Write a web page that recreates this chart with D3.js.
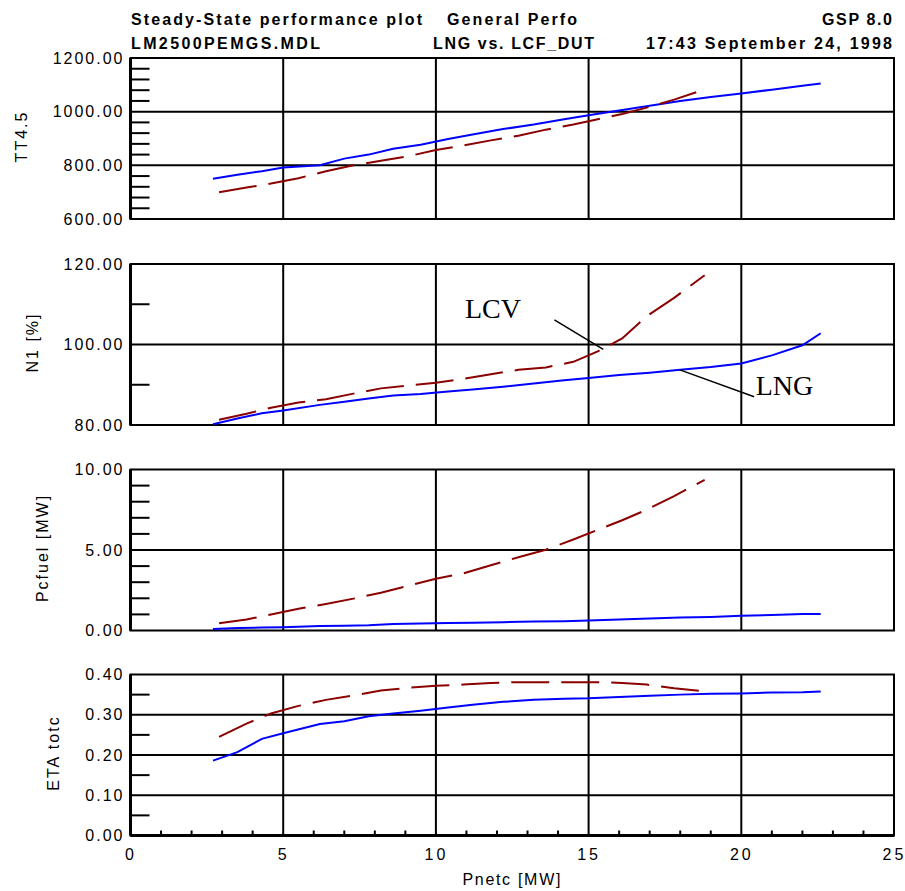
<!DOCTYPE html>
<html>
<head>
<meta charset="utf-8">
<script src="https://cdn.jsdelivr.net/npm/d3@7"></script>
<style>
  html, body { margin: 0; padding: 0; background: #fff; }
  svg { display: block; }
</style>
</head>
<body>
<svg id="chart" width="905" height="891"></svg>
<script>
// Steady-state performance of the LM2500 model: LNG vs. LCV fuel

// Net power (x) for each operating line
const pnetcLNG = [2.7, 3.5, 4.3, 5.0, 6.2, 7.0, 7.8, 8.6, 9.5, 10.4, 11.2, 12.2, 13.2, 14.2, 15.0, 16.0, 17.0, 18.0, 19.0, 20.0, 21.0, 22.0, 22.6];
const pnetcLCV = [2.9, 3.8, 4.6, 5.5, 6.4, 7.3, 8.2, 9.1, 10.0, 10.9, 11.8, 12.7, 13.6, 14.5, 15.3, 16.1, 16.9, 17.8, 18.8];

// TT4.5
const tt45LNG = [750, 765, 778, 792, 800, 825, 840, 862, 877, 898, 915, 935, 952, 972, 987, 1004, 1022, 1040, 1055, 1068, 1082, 1097, 1105];
const tt45LCV = [700, 717, 732, 752, 778, 800, 817, 834, 857, 874, 893, 910, 933, 952, 972, 991, 1015, 1045, 1083];

// N1 [%]
const n1LNG = [80.2, 81.6, 82.9, 83.6, 85.0, 85.8, 86.6, 87.3, 87.7, 88.3, 88.8, 89.5, 90.3, 91.1, 91.7, 92.4, 93.0, 93.7, 94.4, 95.3, 97.3, 99.8, 102.8];
const n1LCV = [81.3, 82.8, 84.3, 85.6, 86.4, 87.8, 89.1, 89.8, 90.5, 91.5, 92.6, 93.7, 94.3, 95.7, 98.3, 101.5, 107.0, 111.6, 117.2];

// Pcfuel [MW]
const pcfuelLNG = [0.10, 0.15, 0.18, 0.20, 0.28, 0.30, 0.33, 0.40, 0.43, 0.46, 0.48, 0.52, 0.56, 0.58, 0.62, 0.68, 0.75, 0.80, 0.84, 0.91, 0.96, 1.02, 1.03];
const pcfuelLCV = [0.45, 0.68, 1.00, 1.35, 1.65, 1.98, 2.35, 2.78, 3.22, 3.55, 4.05, 4.55, 5.02, 5.65, 6.25, 6.85, 7.50, 8.35, 9.35];

// ETA totc
const etaLNG = [0.186, 0.207, 0.240, 0.254, 0.277, 0.284, 0.296, 0.303, 0.310, 0.318, 0.325, 0.332, 0.337, 0.340, 0.341, 0.344, 0.347, 0.350, 0.352, 0.353, 0.355, 0.356, 0.358];
const etaLCV = [0.245, 0.278, 0.303, 0.322, 0.337, 0.348, 0.360, 0.367, 0.372, 0.375, 0.379, 0.381, 0.381, 0.381, 0.381, 0.379, 0.375, 0.366, 0.358];

// Axes
const xTicks = [0, 5, 10, 15, 20, 25];
const xTitle = "Pnetc [MW]";
const panelTitles = ["TT4.5", "N1 [%]", "Pcfuel [MW]", "ETA totc"];
const panelDomains = [[600, 1200], [80, 120], [0, 10], [0, 0.4]];
const panelMajorTicks = [[600, 800, 1000, 1200], [80, 100, 120], [0, 5, 10], [0, 0.1, 0.2, 0.3, 0.4]];
const panelMinorStep = [40, 10, 1, 0.05];

// Header lines
const headerLeft = ["Steady-State performance plot", "LM2500PEMGS.MDL"];
const headerMid = ["General Perfo", "LNG vs. LCF_DUT"];
const headerRight = ["GSP 8.0", "17:43  September 24, 1998"];

// Curve labels on the N1 panel (data coordinates)
const curveLabels = ["LCV", "LNG"];
const curveLabelX = [10.95, 20.47];
const curveLabelY = [106.6, 87.45];
const leaderStart = [[13.88, 106.1], [17.99, 93.7]];
const leaderEnd = [[15.48, 98.8], [20.42, 87.0]];

const seriesByPanel = [
  [tt45LNG, tt45LCV],
  [n1LNG, n1LCV],
  [pcfuelLNG, pcfuelLCV],
  [etaLNG, etaLCV]
];

// ---- layout ----
const svg = d3.select("#chart");
const left = 130.5, right = 894;
const panelTop = [58, 264, 469.5, 674.5];
const panelH = 161;
const sansFont = "'Liberation Sans', Arial, sans-serif";
const blue = "#0000ff", darkRed = "#8b0000";

const x = d3.scaleLinear().domain([xTicks[0], xTicks[xTicks.length - 1]]).range([left, right]);
const fmt2 = d3.format(".2f");

// Header
const header = svg.append("g")
  .attr("font-family", sansFont)
  .attr("font-weight", "bold")
  .attr("font-size", 16)
  .attr("fill", "#000");
const headerBase = [24.5, 49];
const leftLen = [291, 189];
const midLen = [130, 161];
const rightLen = [70, 246];
headerLeft.forEach((t, i) => header.append("text").attr("x", 131).attr("y", headerBase[i])
  .attr("textLength", leftLen[i]).attr("lengthAdjust", "spacing").text(t));
headerMid.forEach((t, i) => header.append("text").attr("x", i === 0 ? 447 : 433).attr("y", headerBase[i])
  .attr("textLength", midLen[i]).attr("lengthAdjust", "spacing").text(t));
headerRight.forEach((t, i) => header.append("text").attr("x", 892 - rightLen[i]).attr("y", headerBase[i])
  .attr("textLength", rightLen[i]).attr("lengthAdjust", "spacing").text(t));

const line = (ys) => d3.line().x((d, i) => x(d)).y((d, i) => ys(i));

panelTitles.forEach((title, p) => {
  const top = panelTop[p], bottom = top + panelH;
  const [lo, hi] = panelDomains[p];
  const y = d3.scaleLinear().domain([lo, hi]).range([bottom, top]);
  const g = svg.append("g");

  // grid: vertical lines at interior x ticks
  g.selectAll("line.vgrid").data(xTicks.slice(1, -1)).join("line")
    .attr("x1", d => x(d)).attr("x2", d => x(d))
    .attr("y1", top).attr("y2", bottom)
    .attr("stroke", "#000").attr("stroke-width", 2);

  // grid: horizontal lines at interior major y ticks
  g.selectAll("line.hgrid").data(panelMajorTicks[p].slice(1, -1)).join("line")
    .attr("x1", left).attr("x2", right)
    .attr("y1", d => y(d)).attr("y2", d => y(d))
    .attr("stroke", "#000").attr("stroke-width", 2);

  // minor y ticks inside the left axis
  const step = panelMinorStep[p];
  const n = Math.round((hi - lo) / step);
  const minors = d3.range(n + 1).map(k => lo + k * step)
    .filter(v => !panelMajorTicks[p].some(m => Math.abs(m - v) < step * 1e-3));
  g.selectAll("line.minor").data(minors).join("line")
    .attr("x1", left).attr("x2", left + 19)
    .attr("y1", d => y(d)).attr("y2", d => y(d))
    .attr("stroke", "#000").attr("stroke-width", 2);

  // frame
  g.append("rect")
    .attr("x", left).attr("y", top)
    .attr("width", right - left).attr("height", panelH)
    .attr("fill", "none").attr("stroke", "#000").attr("stroke-width", 2);
  g.append("line")
    .attr("x1", left).attr("x2", left).attr("y1", top).attr("y2", bottom)
    .attr("stroke", "#000").attr("stroke-width", 3);

  // y axis labels
  const yAxis = g.append("g")
    .attr("transform", `translate(${left},0)`)
    .call(d3.axisLeft(y).tickValues(panelMajorTicks[p]).tickFormat(fmt2).tickSize(0).tickPadding(6));
  yAxis.select(".domain").remove();
  yAxis.selectAll("text")
    .attr("font-family", sansFont).attr("font-size", 16)
    .attr("letter-spacing", "2px").attr("fill", "#000");

  // y title beside the widest tick label
  let minX = Infinity;
  yAxis.selectAll("text").each(function () {
    const b = this.getBBox();
    minX = Math.min(minX, left + b.x);
  });
  g.append("text")
    .attr("transform", `translate(${minX - 26},${(top + bottom) / 2 - 2}) rotate(-90)`)
    .attr("text-anchor", "middle")
    .attr("font-family", sansFont).attr("font-size", 16)
    .attr("letter-spacing", "2px")
    .text(title);

  // curves
  const [lngVals, lcvVals] = seriesByPanel[p];
  g.append("path")
    .attr("d", line(i => y(lngVals[i]))(pnetcLNG))
    .attr("fill", "none").attr("stroke", blue).attr("stroke-width", 2);
  g.append("path")
    .attr("d", line(i => y(lcvVals[i]))(pnetcLCV))
    .attr("fill", "none").attr("stroke", darkRed).attr("stroke-width", 2)
    .attr("stroke-dasharray", "38,12");

  // curve labels with leader lines on the N1 panel
  if (p === 1) {
    curveLabels.forEach((lab, k) => {
      g.append("line")
        .attr("x1", x(leaderStart[k][0])).attr("y1", y(leaderStart[k][1]))
        .attr("x2", x(leaderEnd[k][0])).attr("y2", y(leaderEnd[k][1]))
        .attr("stroke", "#000").attr("stroke-width", 1.5);
      g.append("text")
        .attr("x", x(curveLabelX[k])).attr("y", y(curveLabelY[k]))
        .attr("font-family", "'Liberation Serif', 'Times New Roman', serif")
        .attr("font-size", 28).attr("fill", "#000")
        .text(lab);
    });
  }

  // x axis on the bottom panel
  if (p === panelTitles.length - 1) {
    g.append("line")
      .attr("x1", left).attr("x2", right).attr("y1", bottom).attr("y2", bottom)
      .attr("stroke", "#000").attr("stroke-width", 3);
    const xMinor = d3.range(xTicks[0], xTicks[xTicks.length - 1]).filter(v => v % 5 !== 0);
    g.selectAll("line.xminor").data(xMinor).join("line")
      .attr("x1", d => x(d)).attr("x2", d => x(d))
      .attr("y1", bottom).attr("y2", bottom - 5)
      .attr("stroke", "#000").attr("stroke-width", 2);
    const xAxis = g.append("g")
      .attr("transform", `translate(0,${bottom})`)
      .call(d3.axisBottom(x).tickValues(xTicks).tickFormat(d3.format("d")).tickSize(0).tickPadding(13));
    xAxis.select(".domain").remove();
    xAxis.selectAll("text")
      .attr("font-family", sansFont).attr("font-size", 16)
      .attr("letter-spacing", "3px").attr("fill", "#000");
    g.append("text")
      .attr("x", (left + right) / 2).attr("y", 885)
      .attr("text-anchor", "middle")
      .attr("font-family", sansFont).attr("font-size", 16)
      .attr("letter-spacing", "1.7px")
      .text(xTitle);
  }
});
</script>
</body>
</html>
